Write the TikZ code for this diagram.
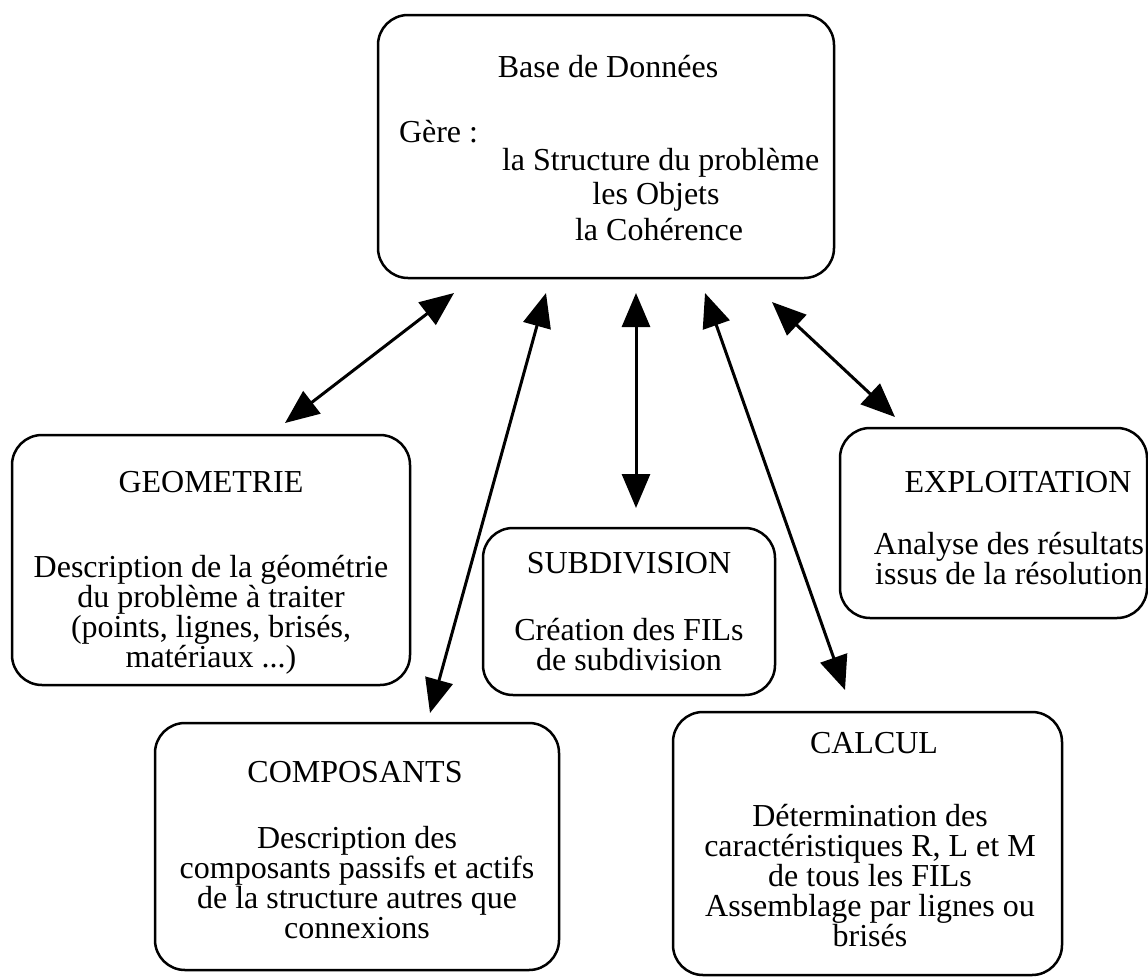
\documentclass[tikz,border=0pt]{standalone}
\usepackage{fontspec}
\setmainfont{Liberation Serif}
\usetikzlibrary{arrows.meta}
\tikzset{
  box/.style={draw=black, line width=2.5pt, rounded corners=30pt, inner sep=0pt, outer sep=0pt},
  txt/.style={inner sep=0pt, outer sep=0pt, align=center, font=\fontsize{32}{30}\selectfont},
  arr/.style={line width=3pt, {Triangle[length=34pt,width=28pt]}-{Triangle[length=34pt,width=28pt]}}
}
\begin{document}
\begin{tikzpicture}[x=1pt,y=-1pt]
\useasboundingbox (0,0) rectangle (1148,977);
% boxes
\node[box, minimum width=456pt, minimum height=263pt] (db) at (606,146.5) {};
\node[box, minimum width=398pt, minimum height=250pt] (geom) at (211,560) {};
\node[box, minimum width=292pt, minimum height=167pt] (sub) at (629,611.5) {};
\node[box, minimum width=307pt, minimum height=190pt] (expl) at (993.5,523) {};
\node[box, minimum width=404pt, minimum height=247pt] (comp) at (357,846.5) {};
\node[box, minimum width=389pt, minimum height=263pt] (calc) at (867.5,843.5) {};
% database texts
\node[txt] (dbT) at (608,67) {Base de Données};
\node[txt, anchor=west] (dbG) at (399,132) {Gère :};
\node[txt, anchor=west] (dbS) at (502,163) {la Structure du problème};
\node[txt] (dbO) at (656,197) {les Objets};
\node[txt] (dbC) at (659,230) {la Cohérence};
% geometrie
\node[txt] (geomT) at (211,482) {GEOMETRIE};
\node[txt] (geomB) at (211,615) {Description de la géométrie\\du problème à traiter\\(points, lignes, brisés,\\matériaux ...)};
% subdivision
\node[txt] (subT) at (629,563) {SUBDIVISION};
\node[txt] (subB) at (629,645) {Création des FILs\\de subdivision};
% exploitation
\node[txt] (explT) at (1018,482) {EXPLOITATION};
\node[txt] (explB) at (1009,559) {Analyse des résultats\\issus de la résolution};
% composants
\node[txt] (compT) at (355,772) {COMPOSANTS};
\node[txt] (compB) at (357,883) {Description des\\composants passifs et actifs\\de la structure autres que\\connexions};
% calcul
\node[txt] (calcT) at (874,743) {CALCUL};
\node[txt] (calcB) at (870,876) {Détermination des\\caractéristiques R, L et M\\de tous les FILs\\Assemblage par lignes ou\\brisés};
% connectors
\draw[arr] ([xshift=76pt,yshift=-15pt]db.south west) -- ([xshift=273pt,yshift=12pt]geom.north west);
\draw[arr] ([xshift=168pt,yshift=-15pt]db.south west) -- ([xshift=275pt,yshift=10pt]comp.north west);
\draw[arr] ([xshift=258pt,yshift=-15pt]db.south west) -- ([xshift=153pt,yshift=20pt]sub.north west);
\draw[arr] ([xshift=327pt,yshift=-15pt]db.south west) -- ([xshift=172pt,yshift=22pt]calc.north west);
\draw[arr] ([xshift=394pt,yshift=-24pt]db.south west) -- ([xshift=55pt,yshift=11pt]expl.north west);
\end{tikzpicture}
\end{document}
